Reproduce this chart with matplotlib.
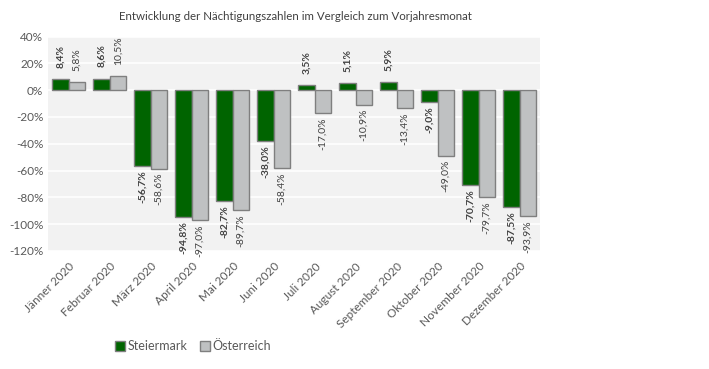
import matplotlib

matplotlib.use("Agg")

import matplotlib.pyplot as plt
import numpy as np

plt.rcParams["font.family"] = ["Lato", "DejaVu Sans"]

months = [
    "Jänner 2020", "Februar 2020", "März 2020", "April 2020", "Mai 2020", "Juni 2020",
    "Juli 2020", "August 2020", "September 2020", "Oktober 2020", "November 2020", "Dezember 2020",
]
steiermark = [8.4, 8.6, -56.7, -94.8, -82.7, -38.0, 3.5, 5.1, 5.9, -9.0, -70.7, -87.5]
oesterreich = [5.8, 10.5, -58.6, -97.0, -89.7, -58.4, -17.0, -10.9, -13.4, -49.0, -79.7, -93.9]
y_ticks = [40, 20, 0, -20, -40, -60, -80, -100, -120]

text_col = "#595959"

fig = plt.figure(figsize=(7.09, 3.69), dpi=100)
ax = fig.add_axes([0.068, 0.32, 0.694, 0.581])
ax.set_facecolor("#F2F2F2")

x = np.arange(len(months))
w = 0.4
b1 = ax.bar(x - w / 2, steiermark, w, color="#006400", edgecolor="#7F7F7F", linewidth=1, label="Steiermark", zorder=3)
b2 = ax.bar(x + w / 2, oesterreich, w, color="#BFC1C2", edgecolor="#7F7F7F", linewidth=1, label="Österreich", zorder=3)


def fmt(v):
    return f"{v:.1f}%".replace(".", ",")


for bars, vals, weight in [(b1, steiermark, "bold"), (b2, oesterreich, "normal")]:
    for rect, v in zip(bars, vals):
        cx = rect.get_x() + rect.get_width() / 2
        if v >= 0:
            ax.annotate(fmt(v), (cx, v), xytext=(0, 8), textcoords="offset points",
                        rotation=90, ha="center", va="bottom", fontsize=7.5,
                        fontweight=weight, color="#404040", annotation_clip=False)
        else:
            ax.annotate(fmt(v), (cx, v), xytext=(0, -3), textcoords="offset points",
                        rotation=90, ha="center", va="top", fontsize=7.5,
                        fontweight=weight, color="#404040", annotation_clip=False)

ax.set_xlim(-0.5, len(months) - 0.5)
ax.set_ylim(-120, 40)
ax.set_yticks(y_ticks)
ax.set_yticklabels([f"{t}%" for t in y_ticks])
ax.yaxis.grid(True, color="white", linewidth=1.2, zorder=0)
ax.set_axisbelow(True)
ax.set_xticks(x)
ax.set_xticklabels(months, rotation=45, ha="right", rotation_mode="anchor")
ax.tick_params(length=0, labelsize=8.5, colors=text_col)
ax.tick_params(axis="x", pad=7)
for s in ax.spines.values():
    s.set_visible(False)

fig.text(0.417, 0.955, "Entwicklung der Nächtigungszahlen im Vergleich zum Vorjahresmonat",
         ha="center", va="center", fontsize=8.3, color="#404040")

fig.legend(handles=[b1, b2], loc="center", bbox_to_anchor=(0.272, 0.062), ncol=2,
           frameon=False, fontsize=9, labelcolor=text_col, handlelength=0.8,
           handleheight=0.8, handletextpad=0.2, columnspacing=1.0)

fig.savefig("out.png", dpi=100)
